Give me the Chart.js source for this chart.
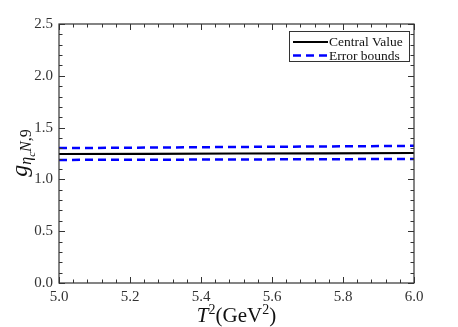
<!DOCTYPE html>
<html>
<head>
<meta charset="utf-8">
<script src="https://cdn.jsdelivr.net/npm/chart.js@4/dist/chart.umd.min.js"></script>
<style>
  html, body { margin: 0; padding: 0; background: #fff; }
  #grafico { display: block; }
</style>
</head>
<body>
<canvas id="grafico" width="458" height="327"></canvas>
<script>
const T2_VALORES = [5.0, 5.25, 5.5, 5.75, 6.0];
const CENTRAL = [1.245, 1.247, 1.250, 1.252, 1.255];
const COTA_SUP = [1.302, 1.307, 1.313, 1.318, 1.324];
const COTA_INF = [1.188, 1.190, 1.192, 1.195, 1.197];

const X_TICKS = [5.0, 5.2, 5.4, 5.6, 5.8, 6.0];
const Y_TICKS = [0.0, 0.5, 1.0, 1.5, 2.0, 2.5];
const X_MINOR = 0.04;
const Y_MINOR = 0.1;

const SERIF = "'Liberation Serif', 'DejaVu Serif', serif";
const AZUL = '#0000ff';

function puntos(ys) {
    return T2_VALORES.map((x, i) => ({ x: x, y: ys[i] }));
}

// marco, ticks hacia dentro, leyenda y titulos de ejes
const extras = {
    id: 'extras',
    afterDraw(chart) {
        const ctx = chart.ctx;
        const a = chart.chartArea;
        const sx = chart.scales.x;
        const sy = chart.scales.y;
        ctx.save();

        ctx.strokeStyle = '#333';
        ctx.lineWidth = 1.2;
        ctx.strokeRect(a.left, a.top, a.right - a.left, a.bottom - a.top);

        ctx.lineWidth = 1;
        const n = Math.round((sx.max - sx.min) / X_MINOR);
        for (let i = 0; i <= n; i++) {
            const v = sx.min + i * X_MINOR;
            const px = Math.round(sx.getPixelForValue(v)) + 0.5;
            const mayor = X_TICKS.some(t => Math.abs(t - v) < 1e-6);
            const l = mayor ? 6 : 3.5;
            ctx.beginPath();
            ctx.moveTo(px, a.bottom); ctx.lineTo(px, a.bottom - l);
            ctx.moveTo(px, a.top); ctx.lineTo(px, a.top + l);
            ctx.stroke();
        }
        const m = Math.round((sy.max - sy.min) / Y_MINOR);
        for (let i = 0; i <= m; i++) {
            const v = sy.min + i * Y_MINOR;
            const py = Math.round(sy.getPixelForValue(v)) + 0.5;
            const mayor = Y_TICKS.some(t => Math.abs(t - v) < 1e-6);
            const l = mayor ? 6 : 3.5;
            ctx.beginPath();
            ctx.moveTo(a.left, py); ctx.lineTo(a.left + l, py);
            ctx.moveTo(a.right, py); ctx.lineTo(a.right - l, py);
            ctx.stroke();
        }

        // leyenda
        ctx.fillStyle = '#fff';
        ctx.fillRect(289, 31.5, 121, 30);
        ctx.strokeStyle = '#333';
        ctx.lineWidth = 1;
        ctx.strokeRect(289.5, 31.5, 120, 30);
        const ds = chart.data.datasets;
        [[0, 42], [1, 55.5]].forEach(([idx, y]) => {
            const d = ds[idx];
            ctx.beginPath();
            ctx.strokeStyle = d.borderColor;
            ctx.lineWidth = d.borderWidth;
            ctx.setLineDash(d.borderDash || []);
            ctx.moveTo(293, y); ctx.lineTo(328, y);
            ctx.stroke();
            ctx.setLineDash([]);
            ctx.fillStyle = '#111';
            ctx.font = '13.5px ' + SERIF;
            ctx.textBaseline = 'middle';
            ctx.textAlign = 'left';
            ctx.fillText(d.label, 329, y + 0.5);
        });

        // titulo eje x: T^2(GeV^2)
        ctx.fillStyle = '#111';
        ctx.textBaseline = 'alphabetic';
        ctx.textAlign = 'left';
        const partesX = [
            ['italic 21px ' + SERIF, 'T', 0],
            ['14px ' + SERIF, '2', -8],
            ['21px ' + SERIF, '(GeV', 0],
            ['14px ' + SERIF, '2', -8],
            ['21px ' + SERIF, ')', 0]
        ];
        let ancho = 0;
        partesX.forEach(p => { ctx.font = p[0]; ancho += ctx.measureText(p[1]).width; });
        let cx = (a.left + a.right) / 2 - ancho / 2 + 0;
        partesX.forEach(p => {
            ctx.font = p[0];
            ctx.fillText(p[1], cx, 322 + p[2]);
            cx += ctx.measureText(p[1]).width;
        });

        // titulo eje y: g_{eta_c N,9}
        ctx.translate(27, 153);
        ctx.rotate(-Math.PI / 2);
        const partesY = [
            ['italic 24px ' + SERIF, 'g', 0],
            ['italic 16px ' + SERIF, 'η', 4],
            ['italic 11px ' + SERIF, 'c', 8],
            ['italic 16px ' + SERIF, 'N', 4],
            ['16px ' + SERIF, ',9', 4]
        ];
        ancho = 0;
        partesY.forEach(p => { ctx.font = p[0]; ancho += ctx.measureText(p[1]).width; });
        cx = -ancho / 2;
        partesY.forEach(p => {
            ctx.font = p[0];
            ctx.fillText(p[1], cx, p[2]);
            cx += ctx.measureText(p[1]).width;
        });

        ctx.restore();
    }
};

new Chart(document.getElementById('grafico'), {
    type: 'line',
    data: {
        datasets: [
            { label: 'Central Value', data: puntos(CENTRAL), borderColor: '#000', borderWidth: 2.2, pointRadius: 0 },
            { label: 'Error bounds', data: puntos(COTA_SUP), borderColor: AZUL, borderWidth: 2.5, borderDash: [8, 5], pointRadius: 0 },
            { label: 'Error bounds', data: puntos(COTA_INF), borderColor: AZUL, borderWidth: 2.5, borderDash: [8, 5], pointRadius: 0 }
        ]
    },
    options: {
        responsive: false,
        animation: false,
        devicePixelRatio: 1,
        layout: { padding: { left: 0, top: 24, right: 44, bottom: 0 } },
        plugins: { legend: { display: false }, tooltip: { enabled: false } },
        scales: {
            x: {
                type: 'linear', min: 5, max: 6,
                grid: { display: false, drawTicks: false }, border: { display: false },
                ticks: {
                    stepSize: 0.2, padding: 5, color: '#333', maxRotation: 0,
                    font: { family: SERIF, size: 15 },
                    callback: v => v.toFixed(1)
                },
                afterFit(s) { s.height = 44; }
            },
            y: {
                min: 0, max: 2.5,
                grid: { display: false, drawTicks: false }, border: { display: false },
                ticks: {
                    stepSize: 0.5, padding: 6, color: '#333',
                    font: { family: SERIF, size: 15 },
                    callback: v => v.toFixed(1)
                },
                afterFit(s) { s.width = 59; }
            }
        }
    },
    plugins: [extras]
});
</script>
</body>
</html>
